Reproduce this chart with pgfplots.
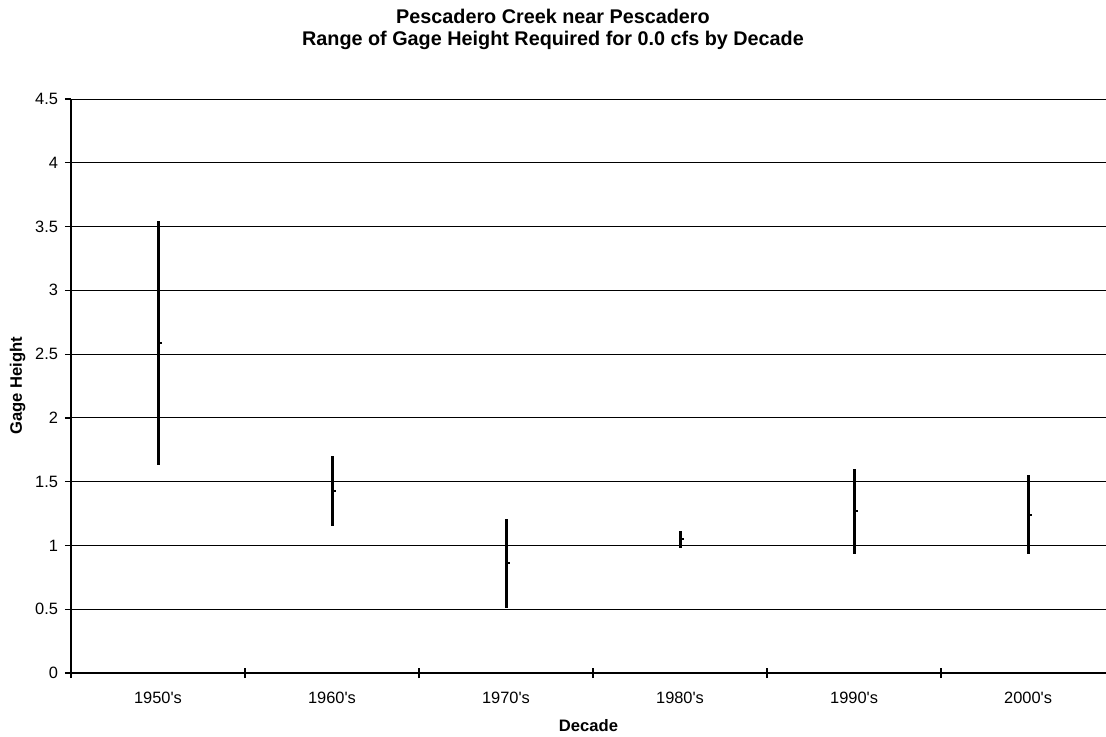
\documentclass[border=0pt]{standalone}
\usepackage{fontspec}
\setmainfont{Liberation Sans}
\usepackage{pgfplots}
\pgfplotsset{compat=1.18}
\usepackage{pgfplotstable}

% decade  low  high  close
\pgfplotstableread{
x low high close
0 1.63 3.545 2.59
1 1.15 1.70 1.43
2 0.51 1.21 0.86
3 0.98 1.11 1.05
4 0.93 1.60 1.27
5 0.93 1.55 1.24
}\gagedata

\pgfdeclareplotmark{closetick}{%
  \pgfpathmoveto{\pgfpoint{0pt}{0pt}}%
  \pgfpathlineto{\pgfpoint{2pt}{0pt}}%
  \pgfusepathqstroke}

\begin{document}
\begin{tikzpicture}
\begin{axis}[
    scale only axis,
    width=517.5pt, height=287pt,
    xmin=-0.5, xmax=5.448,
    ymin=0, ymax=4.5,
    axis x line*=bottom, axis y line*=left,
    axis line style={black, line width=0.6pt},
    ytick={0,0.5,...,4.5},
    xtick={0,...,5},
    xticklabels={1950\textquotesingle s,1960\textquotesingle s,1970\textquotesingle s,
                 1980\textquotesingle s,1990\textquotesingle s,2000\textquotesingle s},
    minor xtick={-0.5,0.5,1.5,2.5,3.5,4.5},
    tick align=outside,
    major tick length=3pt,
    minor tick length=5pt,
    major x tick style={draw=none},
    minor x tick style={black, line width=0.6pt, yshift=2.5pt},
    major y tick style={black, line width=0.6pt},
    ymajorgrids,
    major grid style={black, line width=0.5pt},
    tick label style={font=\fontsize{8.2}{10}\selectfont},
    /pgf/number format/assume math mode=true,
    xticklabel style={yshift=-3pt},
    xlabel={\textbf{Decade}},
    ylabel={\textbf{Gage Height}},
    xlabel style={font=\fontsize{8.3}{10}\selectfont,
        at={([yshift=-26.5pt]axis description cs:0.5,0)}, anchor=center},
    ylabel style={font=\fontsize{8.3}{10}\selectfont,
        at={([xshift=-26.75pt]axis description cs:0,0.5)}, anchor=center},
    clip=false,
]
\addplot[black, only marks, mark=closetick,
    mark options={line width=1pt},
    error bars/.cd, y dir=both, y explicit,
    error bar style={black, line width=1.5pt},
    error mark=none]
  table[x=x, y=close,
        y error plus expr=\thisrow{high}-\thisrow{close},
        y error minus expr=\thisrow{close}-\thisrow{low}] {\gagedata};
\end{axis}
\pgfresetboundingbox
\path (current axis.south west) ++(-35.5pt,-31.5pt) coordinate (bbsw)
      rectangle ++(553pt,368pt);
\node[font=\fontsize{9.9}{11}\selectfont\bfseries, align=center, anchor=north]
  at ([shift={(276.5pt,367pt)}]bbsw)
  {Pescadero Creek near Pescadero\\Range of Gage Height Required for 0.0 cfs by Decade};
\end{tikzpicture}
\end{document}
